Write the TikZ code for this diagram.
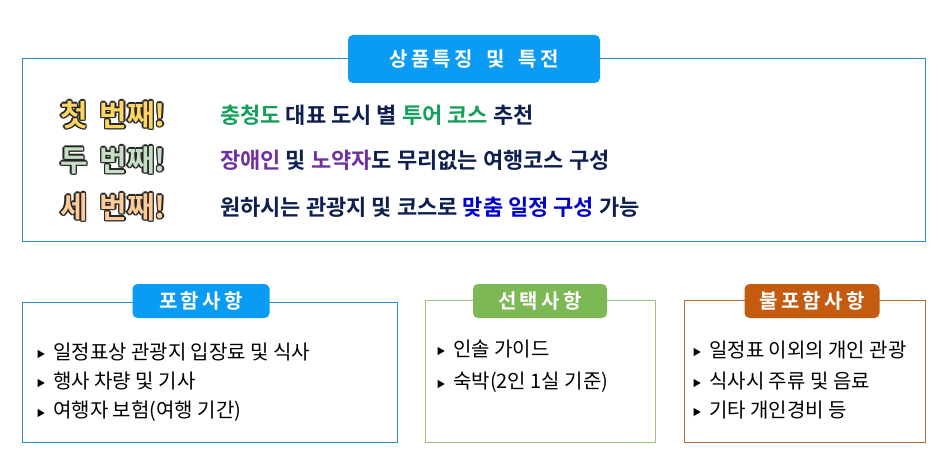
\documentclass[tikz,border=0pt]{standalone}
\usetikzlibrary{shapes.geometric}
\usepackage{fontspec}
\setmainfont{Noto Sans CJK KR}
\newfontfamily\kb{Noto Sans CJK KR Bold}
\definecolor{navy}{HTML}{0D1F4F}
\definecolor{grn}{HTML}{13A05A}
\definecolor{purp}{HTML}{7030A0}
\definecolor{bl}{HTML}{0000CC}
\definecolor{tabblue}{HTML}{0A9BF5}
\definecolor{tabgreen}{HTML}{7CB955}
\definecolor{tabbrown}{HTML}{C55A11}
\definecolor{bxblue}{HTML}{2E8BC9}
\definecolor{bxgreen}{HTML}{9BC27F}
\definecolor{bxbrown}{HTML}{B86A35}
\newcommand{\lbltxt}[1]{\fontsize{30}{30}\kb #1}
\newcommand{\outl}[2]{\foreach \dx/\dy in {-1.5/0,1.5/0,0/-1.5,0/1.5,-1.1/-1.1,1.1/1.1,-1.1/1.1,1.1/-1.1}{\node[lbl,text=black!85] at ([shift={(\dx pt,\dy pt)}]#1) {\lbltxt{#2}};}}
\begin{document}
\begin{tikzpicture}[x=1pt,y=-1pt,
  tab/.style={rounded corners=5pt,minimum height=34pt,text=white,font=\fontsize{20}{20}\kb},
  lbl/.style={inner sep=0,anchor=west},
  row/.style={inner sep=0,anchor=west,font=\fontsize{22}{22}\kb,text=navy},
  item/.style={inner sep=0,anchor=west,font=\fontsize{20}{20}\selectfont,text=black},
  tri/.style={fill=black,isosceles triangle,inner sep=0,minimum size=7pt,isosceles triangle apex angle=60}]
\useasboundingbox (0,0) rectangle (950,468);
\node[draw=bxblue,line width=0.8pt,minimum width=903pt,minimum height=183pt,anchor=north west,inner sep=0] (top) at (22,58) {};
\node[tab,fill=tabblue,minimum width=252pt,minimum height=48pt] (t0) at (474,59) {상\,품\,특\,징\ \ \ 및\ \ \ 특\,전};
% labels
\coordinate (l1) at (60,115);
\coordinate (l2) at (60,160);
\coordinate (l3) at (60,207);
\outl{l1}{첫\ \,번째!}
\node[lbl,text=yellow!50!orange!60] at (l1) {\lbltxt{첫\ \,번째!}};
\outl{l2}{두\ \,번째!}
\node[lbl,text=green!30!gray!35] at (l2) {\lbltxt{두\ \,번째!}};
\outl{l3}{세\ \,번째!}
\node[lbl,text=orange!40] at (l3) {\lbltxt{세\ \,번째!}};
\node[row] (r1) at (220,115) {\textcolor{grn}{충청도} 대표 도시 별 \textcolor{grn}{투어 코스} 추천};
\node[row] (r2) at (220,160) {\textcolor{purp}{장애인} 및 \textcolor{purp}{노약자}도 무리없는 여행코스 구성};
\node[row] (r3) at (220,207) {원하시는 관광지 및 코스로 \textcolor{bl}{맞춤 일정 구성} 가능};
% bottom boxes
\node[draw=bxblue,line width=0.8pt,minimum width=375pt,minimum height=140pt,anchor=north west,inner sep=0] (b1) at (22,302) {};
\node[draw=bxgreen,line width=0.8pt,minimum width=230pt,minimum height=142pt,anchor=north west,inner sep=0] (b2) at (425,300) {};
\node[draw=bxbrown,line width=0.8pt,minimum width=241pt,minimum height=142pt,anchor=north west,inner sep=0] (b3) at (684,300) {};
\node[tab,fill=tabblue,minimum width=137pt] (t1) at (201,301) {포\,함\,사\,항};
\node[tab,fill=tabgreen,minimum width=134pt] (t2) at (540,301) {선\,택\,사\,항};
\node[tab,fill=tabbrown,minimum width=135pt] (t3) at (812,301) {불\,포\,함\,사\,항};
\foreach \x/\y/\t in {40/352/일정표상 관광지 입장료 및 식사,40/381/행사 차량 및 기사,40/411/여행자 보험(여행 기간),
  440/349/인솔 가이드,440/382/숙박(2인 1실 기준),
  696/350/일정표 이외의 개인 관광,696/381/식사시 주류 및 음료,696/410/기타 개인경비 등}{
  \node[tri] at (\x,\y+2) {};
  \node[item] at (\x+13,\y) {\t};}
\end{tikzpicture}
\end{document}
